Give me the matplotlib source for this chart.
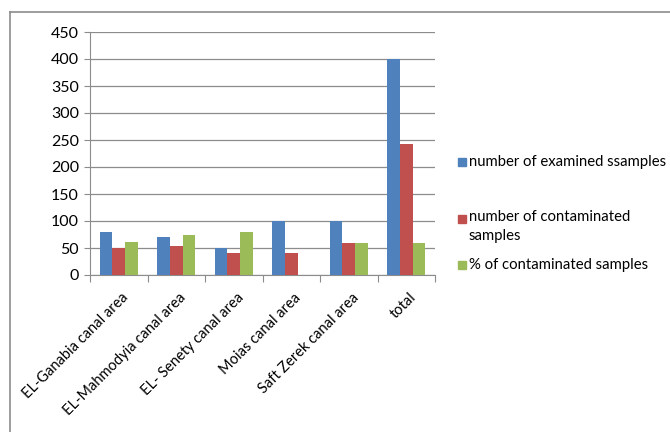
import matplotlib.pyplot as plt
import numpy as np
from matplotlib.patches import Rectangle
from matplotlib.lines import Line2D

categories = ["EL-Ganabia canal area", "EL-Mahmodyia canal area", "EL- Senety canal area",
              "Moias canal area", "Saft Zerek canal area", "total"]
examined = [80, 70, 50, 100, 100, 400]
contaminated = [50, 53, 40, 40, 59, 243]
percent = [62, 75, 80, 0, 59, 60]
series_names = ["number of examined ssamples", "number of contaminated\nsamples",
                "% of contaminated samples"]
colors = ["#4F81BD", "#C0504D", "#9BBB59"]

plt.rcParams['font.family'] = ['Lato', 'DejaVu Sans']

fig = plt.figure(figsize=(6.7, 4.32), dpi=100)
W, H = 670, 432
ax = fig.add_axes([90 / W, 1 - 275 / H, (435 - 90) / W, (275 - 32) / H])

x = np.arange(len(categories))
bw = 0.22
for i, vals in enumerate([examined, contaminated, percent]):
    ax.bar(x + (i - 1) * bw, vals, bw, color=colors[i], label=series_names[i], zorder=3)

ax.set_xlim(-0.5, len(categories) - 0.5)
ax.set_ylim(0, 450)
ax.set_yticks(range(0, 451, 50))
ax.yaxis.grid(True, color="#8c8c8c", linewidth=0.9, zorder=0)
for s in ["top", "right"]:
    ax.spines[s].set_visible(False)
ax.spines["left"].set_color("#8c8c8c")
ax.spines["bottom"].set_color("#8c8c8c")
ax.tick_params(axis="y", length=4, color="#8c8c8c", labelsize=11.5, pad=4)

# category boundary ticks
ax.set_xticks(np.arange(-0.5, len(categories), 1.0))
ax.set_xticklabels([])
ax.tick_params(axis="x", length=5, color="#8c8c8c")
ax.set_xticks(x + 0.05, minor=True)
ax.set_xticklabels(categories, minor=True, rotation=45, ha="right", rotation_mode="anchor",
                   fontsize=10.5)
ax.tick_params(axis="x", which="minor", length=0, pad=11)

# outer chart border (top and left only visible)
fig.add_artist(Line2D([10 / W, 1], [1 - 12 / H, 1 - 12 / H], color="#8c8c8c", lw=1.2))
fig.add_artist(Line2D([10 / W, 10 / W], [0, 1 - 12 / H], color="#8c8c8c", lw=1.2))

# legend
leg_y = [162, 219, 265]
for c, name, yy in zip(colors, series_names, leg_y):
    fig.add_artist(Rectangle((458 / W, 1 - (yy + 4) / H), 8 / W, 8 / H, color=c))
    if "\n" in name:
        fig.text(469 / W, 1 - (yy - 9) / H, name, fontsize=10.7, va="top", linespacing=1.45)
    else:
        fig.text(469 / W, 1 - yy / H, name, fontsize=10.7, va="center")

fig.savefig("out.png", dpi=100)
